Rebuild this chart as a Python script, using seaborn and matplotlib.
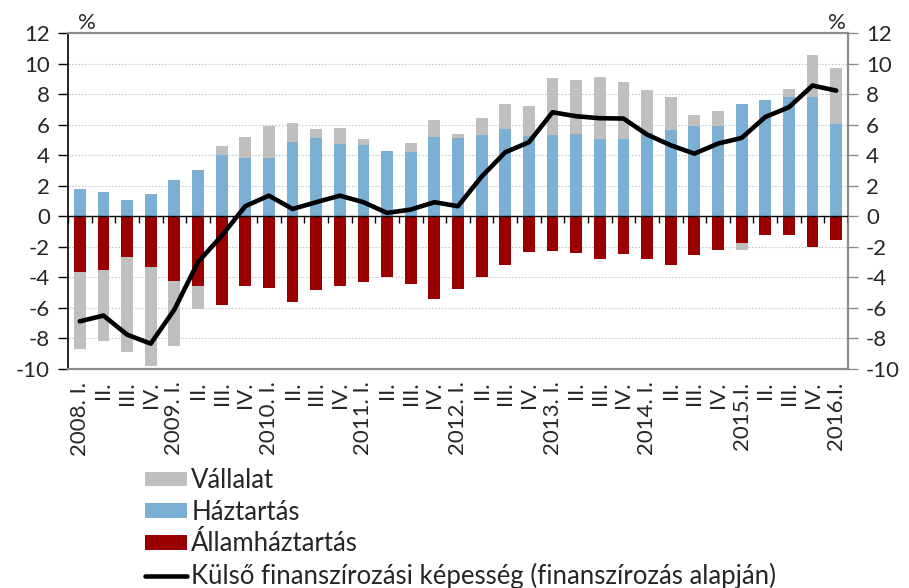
import numpy as np
import pandas as pd
import matplotlib
matplotlib.use("Agg")
import matplotlib.pyplot as plt
import seaborn as sns
from matplotlib.patches import Patch
from matplotlib.lines import Line2D

quarters = ["2008. I.", "II.", "III.", "IV.",
            "2009. I.", "II.", "III.", "IV.",
            "2010. I.", "II.", "III.", "IV.",
            "2011. I.", "II.", "III.", "IV.",
            "2012. I.", "II.", "III.", "IV.",
            "2013. I.", "II.", "III.", "IV.",
            "2014. I.", "II.", "III.", "IV.",
            "2015.I.", "II.", "III.", "IV.",
            "2016.I."]

vallalat = [-5.02, -4.70, -6.27, -6.51, -4.23, -1.53, 0.59, 1.40,
            2.14, 1.22, 0.63, 1.05, 0.40, 0.00, 0.64, 1.11,
            0.26, 1.15, 1.66, 2.01, 3.77, 3.52, 4.11, 3.74,
            2.79, 2.14, 0.72, 1.02, -0.51, 0.00, 0.50, 2.73,
            3.67]
haztartas = [1.79, 1.57, 1.07, 1.46, 2.38, 3.01, 4.00, 3.80,
             3.80, 4.89, 5.11, 4.76, 4.69, 4.26, 4.19, 5.20,
             5.15, 5.31, 5.70, 5.24, 5.31, 5.37, 5.04, 5.04,
             5.46, 5.68, 5.94, 5.90, 7.34, 7.64, 7.84, 7.82,
             6.07]
allamhaztartas = [-3.67, -3.49, -2.64, -3.32, -4.24, -4.54, -5.81, -4.59,
                  -4.67, -5.59, -4.83, -4.56, -4.28, -4.00, -4.43, -5.44,
                  -4.76, -3.97, -3.21, -2.36, -2.29, -2.40, -2.77, -2.45,
                  -2.82, -3.17, -2.55, -2.18, -1.72, -1.20, -1.22, -2.03,
                  -1.53]
kulso = [-6.88, -6.50, -7.75, -8.34, -6.11, -3.00, -1.28, 0.66,
         1.35, 0.48, 0.92, 1.35, 0.92, 0.22, 0.44, 0.92,
         0.66, 2.60, 4.19, 4.85, 6.81, 6.55, 6.42, 6.40,
         5.35, 4.65, 4.10, 4.76, 5.13, 6.50, 7.14, 8.56,
         8.23]

C_GRAY = "#BFBFBF"
C_BLUE = "#7BAFD4"
C_RED = "#9B0000"

sns.set_style("white")
plt.rcParams["font.family"] = ["Lato", "DejaVu Sans"]
FS = 16
FS_LEG = 18.5

n = len(quarters)
pos = np.arange(n)
v = np.array(vallalat)
h = np.array(haztartas)
a = np.array(allamhaztartas)
df = pd.DataFrame({
    "pos": pos,
    "pos_top": h + np.clip(v, 0, None),
    "neg_bot": a + np.clip(v, None, 0),
    "haz": h,
    "allam": a,
    "line": kulso,
})

fig = plt.figure(figsize=(9.09, 5.88), dpi=100)
ax = fig.add_axes([68 / 909, 1 - 369 / 588, (848 - 68) / 909, (369 - 33) / 588])

bw = 0.5
sns.barplot(data=df, x="pos", y="pos_top", color=C_GRAY, width=bw, ax=ax,
            saturation=1, linewidth=0)
sns.barplot(data=df, x="pos", y="neg_bot", color=C_GRAY, width=bw, ax=ax,
            saturation=1, linewidth=0)
sns.barplot(data=df, x="pos", y="haz", color=C_BLUE, width=bw, ax=ax,
            saturation=1, linewidth=0)
sns.barplot(data=df, x="pos", y="allam", color=C_RED, width=bw, ax=ax,
            saturation=1, linewidth=0)
sns.lineplot(x=pos, y=kulso, color="black", linewidth=3.3, ax=ax, zorder=5)

ax.set_xlim(-0.5, n - 0.5)
ax.set_ylim(-10, 12)
yt = np.arange(-10, 13, 2)
ax.set_yticks(yt)
ax.set_yticklabels([str(t) for t in yt], fontsize=FS)
ax.set_xlabel("")
ax.set_ylabel("")

# grid
for t in yt:
    if t not in (0, -10, 12):
        ax.axhline(t, color="#C8C8C8", lw=0.8, ls=(0, (1.5, 1.5)), zorder=0)
ax.axhline(0, color="black", lw=1.0, zorder=4)
ax.vlines(np.arange(n + 1) - 0.5, 0, -0.45, color="black", lw=1.0, zorder=4)

ax.set_xticks(pos)
ax.set_xticklabels(quarters, rotation=90, fontsize=FS)
ax.tick_params(axis="x", length=0, pad=9)
ax.tick_params(axis="y", direction="out", length=7, width=1, color="black", pad=6)

for s in ["top", "right", "bottom"]:
    ax.spines[s].set_color("#8C8C8C")
    ax.spines[s].set_linewidth(1.6)
ax.spines["left"].set_color("black")
ax.spines["left"].set_linewidth(1.2)

ax2 = ax.twinx()
ax2.set_ylim(-10, 12)
ax2.set_yticks(yt)
ax2.set_yticklabels([str(t) for t in yt], fontsize=FS)
ax2.tick_params(axis="y", direction="out", length=7, width=1, color="#8C8C8C", pad=6)
for s in ax2.spines.values():
    s.set_visible(False)

fig.text(78 / 909, 1 - 29 / 588, "%", fontsize=FS, ha="left", va="baseline")
fig.text(846 / 909, 1 - 29 / 588, "%", fontsize=FS, ha="right", va="baseline")

handles = [Patch(facecolor=C_GRAY, edgecolor="none"),
           Patch(facecolor=C_BLUE, edgecolor="none"),
           Patch(facecolor=C_RED, edgecolor="none"),
           Line2D([0], [0], color="black", lw=3.3)]
labels = ["Vállalat", "Háztartás", "Államháztartás",
          "Külső finanszírozási képesség (finanszírozás alapján)"]
fig.legend(handles, labels, loc="upper left", bbox_to_anchor=(145 / 909, 1 - 468 / 588),
           frameon=False, fontsize=FS_LEG, handlelength=1.65, handleheight=0.5,
           handletextpad=0.15, labelspacing=0.26, borderaxespad=0, borderpad=0)

fig.savefig("out.png", dpi=100)
